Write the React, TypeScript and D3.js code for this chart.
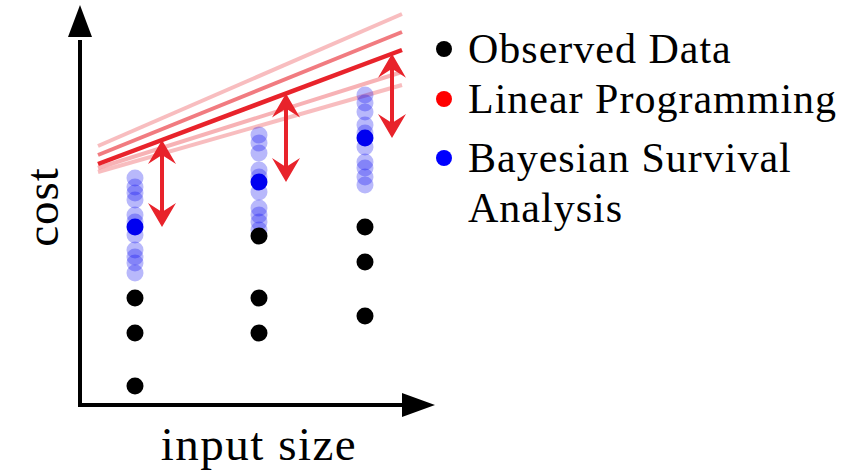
import React, { useRef, useEffect } from "react"
import * as d3 from "d3"

// input sizes of the three observed columns
const inputSizes = [55, 179, 285]
// observed costs per column
const observed = [
  [107, 72, 19],
  [169, 107, 72],
  [178, 143, 89],
]
// posterior mean of the bayesian model per column
const bayesMean = [178, 223, 267]
// posterior samples per column
const bayesSamples = [
  [227, 218, 212, 205, 190, 183, 170, 155, 148, 142, 132],
  [270, 262, 252, 235, 228, 213, 197, 190, 183, 175],
  [310, 302, 293, 280, 272, 258, 243, 237, 228, 220],
]
// linear programming fits: [cost at left end, cost at right end]
const lpX = [18, 322]
const lpFits = [
  { y: [259, 391], opacity: 0.3 },
  { y: [250, 373], opacity: 0.6 },
  { y: [237, 333], opacity: 0.35 },
  { y: [233, 320], opacity: 0.3 },
]
const lpMain = [241, 355]
const legendItems = [
  { label: ["Observed Data"], color: "#000000" },
  { label: ["Linear Programming"], color: "#ff0000" },
  { label: ["Bayesian Survival", "Analysis"], color: "#0000ff" },
]

const W = 866
const H = 472
const RED = "#e8232b"
const BLUE = "#0000f0"
const FONT = "'Liberation Serif', 'DejaVu Serif', serif"

const App = () => {
  const ref = useRef(null)

  useEffect(() => {
    const svg = d3.select(ref.current)
    svg.selectAll("*").remove()

    const x = d3.scaleLinear().domain([0, 355]).range([80, 435])
    const y = d3.scaleLinear().domain([0, 400]).range([405, 5])
    const r = 8.5

    // axes with arrow heads
    svg.append("line")
      .attr("x1", x(0)).attr("y1", y(0) + 2)
      .attr("x2", x(0)).attr("y2", y(365))
      .attr("stroke", "black").attr("stroke-width", 4)
    svg.append("path")
      .attr("d", `M${x(0)},${y(400)} L${x(0) + 12},${y(368)} L${x(0) - 12},${y(368)} Z`)
      .attr("fill", "black")
    svg.append("line")
      .attr("x1", x(0) - 2).attr("y1", y(0))
      .attr("x2", x(325)).attr("y2", y(0))
      .attr("stroke", "black").attr("stroke-width", 4)
    svg.append("path")
      .attr("d", `M${x(355)},${y(0)} L${x(322)},${y(0) - 12} L${x(322)},${y(0) + 12} Z`)
      .attr("fill", "black")

    // axis labels
    svg.append("text")
      .attr("transform", `translate(58,207) rotate(-90)`)
      .attr("text-anchor", "middle")
      .style("font-family", FONT).attr("font-size", 47)
      .style("letter-spacing", "1px")
      .text("cost")
    svg.append("text")
      .attr("x", 259).attr("y", 460)
      .attr("text-anchor", "middle")
      .style("font-family", FONT).attr("font-size", 47)
      .style("letter-spacing", "1.5px")
      .text("input size")

    // linear programming lines
    const line = d3.line<[number, number]>().x(d => x(d[0])).y(d => y(d[1]))
    lpFits.forEach(f => {
      svg.append("path")
        .attr("d", line([[lpX[0], f.y[0]], [lpX[1], f.y[1]]]))
        .attr("stroke", RED).attr("stroke-opacity", f.opacity)
        .attr("stroke-width", 4).attr("fill", "none")
    })
    svg.append("path")
      .attr("d", line([[lpX[0], lpMain[0]], [lpX[1], lpMain[1]]]))
      .attr("stroke", RED).attr("stroke-width", 4.5).attr("fill", "none")

    const lpAt = d3.scaleLinear().domain(lpX).range(lpMain)

    // bayesian samples
    inputSizes.forEach((s, i) => {
      svg.append("g").selectAll("circle")
        .data(bayesSamples[i])
        .enter()
        .append("circle")
          .attr("cx", x(s)).attr("cy", d => y(d)).attr("r", r)
          .attr("fill", BLUE).attr("fill-opacity", 0.28)
      svg.append("circle")
        .attr("cx", x(s)).attr("cy", y(bayesMean[i])).attr("r", r)
        .attr("fill", BLUE)
    })

    // observed data
    inputSizes.forEach((s, i) => {
      svg.append("g").selectAll("circle")
        .data(observed[i])
        .enter()
        .append("circle")
          .attr("cx", x(s)).attr("cy", d => y(d)).attr("r", r)
          .attr("fill", "black")
    })

    // double headed arrows from the LP fit to the bayesian mean
    const off = 27
    const head = (tx, ty, dir) =>
      `M${tx},${ty} L${tx + 14},${ty + dir * 24} L${tx},${ty + dir * 15} L${tx - 14},${ty + dir * 24} Z`
    inputSizes.forEach((s, i) => {
      const ax = x(s + off)
      const top = y(lpAt(s + off))
      const bot = y(bayesMean[i])
      svg.append("line")
        .attr("x1", ax).attr("y1", top + 12)
        .attr("x2", ax).attr("y2", bot - 12)
        .attr("stroke", RED).attr("stroke-width", 4)
      svg.append("path").attr("d", head(ax, top, 1)).attr("fill", RED)
      svg.append("path").attr("d", head(ax, bot, -1)).attr("fill", RED)
    })

    // legend
    const lg = svg.append("g")
    const rowY = [63, 113, 172]
    legendItems.forEach((it, i) => {
      const baseline = rowY[i]
      lg.append("circle")
        .attr("cx", 444).attr("cy", baseline - 14).attr("r", 8)
        .attr("fill", it.color)
      it.label.forEach((t, j) => {
        lg.append("text")
          .attr("x", 468).attr("y", baseline + j * 50)
          .style("font-family", FONT).attr("font-size", 42)
          .style("letter-spacing", "1px")
          .text(t)
      })
    })
  }, [])

  return (
    <svg ref={ref} width={W} height={H}
      style={{ position: "absolute", left: 0, top: 0, background: "white" }} />
  )
}

export default App
